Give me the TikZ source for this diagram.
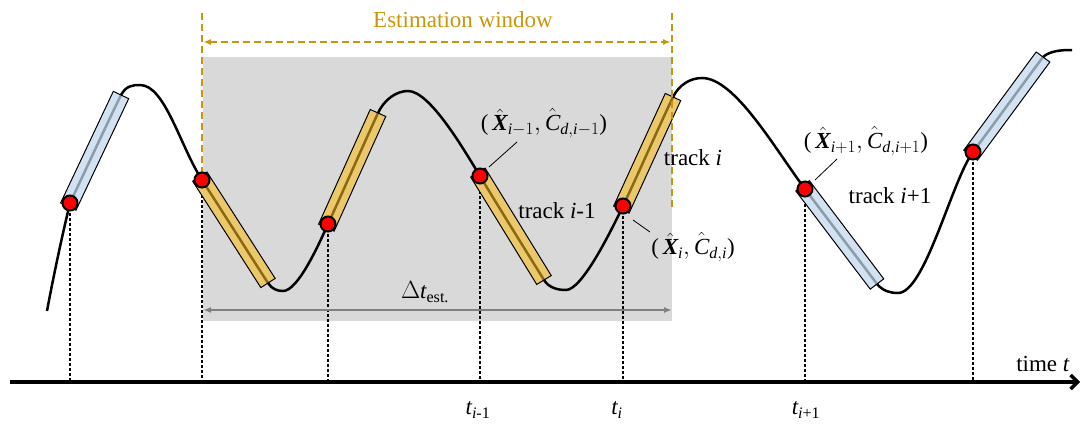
\documentclass[tikz,border=0pt]{standalone}
\usepackage{amsmath}
\usepackage{fontspec}
\setmainfont{Liberation Serif}
\usepackage{tikz}
\usetikzlibrary{arrows.meta,positioning,calc}
\definecolor{window}{HTML}{C8960A}
\definecolor{winbg}{HTML}{D9D9D9}
\definecolor{goldfill}{HTML}{EBC96B}
\definecolor{goldline}{HTML}{8B6914}
\definecolor{bluefill}{HTML}{D2E2F3}
\definecolor{blueline}{HTML}{8E9CA8}
\definecolor{span}{HTML}{808080}

\newcommand{\tv}[1]{\text{\itshape #1}}
\newcommand{\tb}[1]{\text{\bfseries\itshape #1}}
% the trajectory, in pixel coordinates
\newcommand{\wave}{(47,311) .. controls (55,268) and (64,228) .. (70,203)
  .. controls (87,167) and (104,130) .. (121,95) .. controls (126,86) and (132,85) .. (140,85)
  .. controls (165,85) and (180,146) .. (202,180) .. controls (224,214) and (246,249) .. (268,283)
  .. controls (272,289) and (277,291) .. (283,291) .. controls (298,291) and (319,244) .. (328,224)
  .. controls (345,187) and (361,150) .. (378,113) .. controls (384,100) and (396,91) .. (408,91)
  .. controls (430,91) and (464,150) .. (480,176) .. controls (501,211) and (523,246) .. (544,280)
  .. controls (549,288) and (558,290) .. (566,290) .. controls (582,290) and (611,231) .. (623,206)
  .. controls (640,170) and (656,133) .. (673,97) .. controls (679,85) and (690,78) .. (702,78)
  .. controls (735,78) and (775,149) .. (805,189) .. controls (829,221) and (853,252) .. (877,284)
  .. controls (883,291) and (890,293) .. (898,293) .. controls (925,293) and (952,180) .. (973,152)
  .. controls (996,121) and (1020,88) .. (1043,57) .. controls (1050,51) and (1060,50) .. (1072,50)}
\newcommand{\trackbar}[4]{%
  \coordinate (s) at ($(#1)!-4pt!(#2)$);
  \coordinate (c1) at ($(s)!8.5pt!90:(#2)$);
  \coordinate (c2) at ($(#2)!8.5pt!-90:(s)$);
  \coordinate (c3) at ($(#2)!8.5pt!90:(s)$);
  \coordinate (c4) at ($(s)!8.5pt!-90:(#2)$);
  \begin{scope}
    \fill[#3] (c1) -- (c2) -- (c3) -- (c4) -- cycle;
    \clip (c1) -- (c2) -- (c3) -- (c4) -- cycle;
    \draw[#4,line width=2.5pt] \wave;
  \end{scope}
  \draw[line width=1pt] (c1) -- (c2) -- (c3) -- (c4) -- cycle;}

\begin{document}
\begin{tikzpicture}[x=1pt,y=-1pt,
  lbl/.style={font=\fontsize{23}{27}\selectfont,inner sep=0pt},
  dot/.style={circle,fill=red,draw=black,line width=2pt,minimum size=15pt,inner sep=0pt},
  drop/.style={line width=2.5pt,dash pattern=on 2.5pt off 2.5pt},
  leader/.style={line width=0.8pt}]
  \useasboundingbox (0,0) rectangle (1084,423);
  \fill[winbg] (203,57) rectangle (672,321);

  % sample instants
  \foreach \n/\x/\y in {0/70/203,1/202/180,2/328/224,3/480/176,4/623/206,5/805/189,6/973/152}
    \coordinate (p\n) at (\x,\y);
  \foreach \n/\x/\y in {0/121/95,1/268/283,2/378/113,3/544/280,4/673/97,5/877/284,6/1043/57}
    \coordinate (e\n) at (\x,\y);

  \draw[line width=3.5pt,-{Straight Barb[length=7pt,width=14pt]}] (10,382) -- (1080,382);
  \foreach \n in {0,...,6} { \draw[drop] (p\n) -- (p\n |- 0,382); }

  \draw[line width=2.5pt] \wave;

  \trackbar{p0}{e0}{bluefill}{blueline}
  \trackbar{p1}{e1}{goldfill}{goldline}
  \trackbar{p2}{e2}{goldfill}{goldline}
  \trackbar{p3}{e3}{goldfill}{goldline}
  \trackbar{p4}{e4}{goldfill}{goldline}
  \trackbar{p5}{e5}{bluefill}{blueline}
  \trackbar{p6}{e6}{bluefill}{blueline}

  % estimation window
  \draw[window,line width=2.5pt,dash pattern=on 7pt off 4pt] (202,13) -- (202,172);
  \draw[window,line width=2.5pt,dash pattern=on 7pt off 4pt] (672,13) -- (672,210);
  \draw[window,line width=2.5pt,dash pattern=on 7pt off 4pt,{Latex[length=8pt]}-{Latex[length=8pt]}] (203,42) -- (671,42);
  \node[lbl,text=window] (win) at (463,20) {Estimation window};
  \draw[span,line width=2.5pt,{Latex[length=8pt]}-{Latex[length=8pt]}] (203,310) -- (672,310);
  \node[lbl] (dt) at (425,292) {$\Delta\tv{t}_{\text{est.}}$};

  \foreach \n in {0,...,6} { \node[dot] (d\n) at (p\n) {}; }

  % labels
  \node[lbl] (xa) at (544,123) {(\,$\hat{\tb{X}}_{\tv{i}-1},\hat{\tv{C}}_{\tv{d},\tv{i}-1}$)};
  \node[lbl] (xb) at (693,247) {(\,$\hat{\tb{X}}_{\tv{i}},\hat{\tv{C}}_{\tv{d},\tv{i}}$)};
  \node[lbl] (xc) at (866,141) {(\,$\hat{\tb{X}}_{\tv{i}+1},\hat{\tv{C}}_{\tv{d},\tv{i}+1}$)};
  \draw[leader] (p3) ++(9,-9) -- ++(28,-25);
  \draw[leader] (p4) ++(10,14) -- ++(17,12);
  \draw[leader] (p5) ++(10,-9) -- ++(22,-21);
  \node[lbl] (ta) at (557,211) {track \textit{i}-1};
  \node[lbl] (tb) at (693,158) {track \textit{i}};
  \node[lbl] (tc) at (890,196) {track \textit{i}+1};
  \node[lbl] (time) at (1043,364) {time \textit{t}};
  \node[lbl] (ka) at (478,410) {$\tv{t}_{\tv{i}\text{-1}}$};
  \node[lbl] (kb) at (617,410) {$\tv{t}_{\tv{i}}$};
  \node[lbl] (kc) at (806,410) {$\tv{t}_{\tv{i}\text{+1}}$};
\end{tikzpicture}
\end{document}
